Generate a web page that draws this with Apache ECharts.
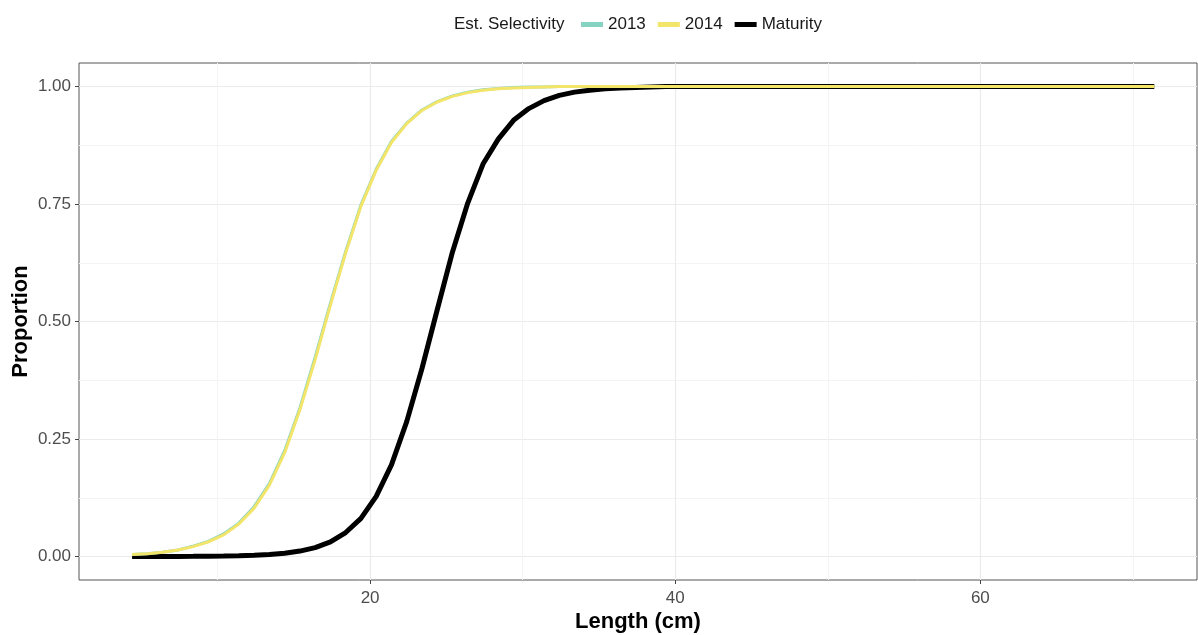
<!DOCTYPE html>
<html lang="en">
<head>
    <meta charset="UTF-8">
    <title>Selectivity and maturity at length</title>
    <script src="https://cdn.jsdelivr.net/npm/echarts@6/dist/echarts.min.js"></script>
    <style>
        body { margin: 0; padding: 0; background: #fff; }
        #chart { width: 1198px; height: 635px; }
    </style>
</head>
<body>
    <div id="chart"></div>
    <script>
        // length bins (cm)
        const lengths = [
            4.4, 5.4, 6.4, 7.4, 8.4, 9.4, 10.4, 11.4, 12.4, 13.4, 14.4, 15.4, 16.4, 17.4, 18.4, 19.4, 20.4,
            21.4, 22.4, 23.4, 24.4, 25.4, 26.4, 27.4, 28.4, 29.4, 30.4, 31.4, 32.4, 33.4, 34.4, 35.4, 36.4,
            37.4, 38.4, 39.4, 40.4, 41.4, 42.4, 43.4, 44.4, 45.4, 46.4, 47.4, 48.4, 49.4, 50.4, 51.4, 52.4,
            53.4, 54.4, 55.4, 56.4, 57.4, 58.4, 59.4, 60.4, 61.4, 62.4, 63.4, 64.4, 65.4, 66.4, 67.4, 68.4,
            69.4, 70.4, 71.4
        ];

        // estimated selectivity, 2013
        const sel2013 = [
            0.004, 0.006, 0.009, 0.014, 0.022, 0.032, 0.048, 0.071, 0.106, 0.155, 0.225, 0.316, 0.424, 0.539, 0.649, 0.748, 0.824,
            0.883, 0.922, 0.950, 0.968, 0.980, 0.988, 0.993, 0.996, 0.998, 0.999, 0.999, 1, 1, 1, 1, 1,
            1, 1, 1, 1, 1, 1, 1, 1, 1, 1, 1, 1, 1, 1, 1, 1,
            1, 1, 1, 1, 1, 1, 1, 1, 1, 1, 1, 1, 1, 1, 1, 1,
            1, 1, 1
        ];

        // estimated selectivity, 2014
        const sel2014 = [
            0.004, 0.006, 0.009, 0.014, 0.021, 0.031, 0.046, 0.069, 0.103, 0.152, 0.221, 0.312, 0.419, 0.535, 0.646, 0.745, 0.822,
            0.881, 0.921, 0.949, 0.967, 0.979, 0.987, 0.992, 0.995, 0.997, 0.998, 0.999, 1, 1, 1, 1, 1,
            1, 1, 1, 1, 1, 1, 1, 1, 1, 1, 1, 1, 1, 1, 1, 1,
            1, 1, 1, 1, 1, 1, 1, 1, 1, 1, 1, 1, 1, 1, 1, 1,
            1, 1, 1
        ];

        // maturity ogive
        const maturity = [
            0, 0.0001, 0.0001, 0.0002, 0.0003, 0.0006, 0.0009, 0.0015, 0.0025, 0.0042, 0.0070, 0.0115, 0.019, 0.031, 0.051, 0.081, 0.128,
            0.195, 0.287, 0.400, 0.525, 0.648, 0.752, 0.835, 0.888, 0.928, 0.953, 0.970, 0.981, 0.988, 0.992, 0.995, 0.997,
            0.998, 0.999, 1, 1, 1, 1, 1, 1, 1, 1, 1, 1, 1, 1, 1, 1,
            1, 1, 1, 1, 1, 1, 1, 1, 1, 1, 1, 1, 1, 1, 1, 1,
            1, 1, 1
        ];

        const xMajor = [20, 40, 60];
        const xMinor = [10, 30, 50, 70];
        const yMajor = [0, 0.25, 0.5, 0.75, 1];
        const yMinor = [0.125, 0.375, 0.625, 0.875];

        const pairs = vals => lengths.map((l, i) => [l, vals[i]]);

        const font = "'Liberation Sans', Arial, sans-serif";
        const xRange = { min: 0.92, max: 74.2 };
        const yRange = { min: -0.05, max: 1.05 };

        const chart = echarts.init(document.getElementById('chart'));

        const option = {
            animation: false,
            backgroundColor: '#fff',
            title: {
                text: 'Est. Selectivity',
                left: 449,
                top: 11,
                textStyle: { fontFamily: font, fontSize: 17, fontWeight: 'normal', color: '#1a1a1a' }
            },
            legend: {
                data: ['2013', '2014', 'Maturity'],
                left: 576,
                top: 11,
                icon: 'rect',
                itemWidth: 22,
                itemHeight: 5,
                itemGap: 12,
                textStyle: { fontFamily: font, fontSize: 17, color: '#1a1a1a' }
            },
            grid: {
                left: 79,
                right: 1,
                top: 63,
                bottom: 55,
                outerBoundsMode: 'none',
                containLabel: false,
                show: true,
                borderColor: '#555',
                borderWidth: 1,
                backgroundColor: '#fff'
            },
            xAxis: [{
                type: 'value',
                ...xRange,
                name: 'Length (cm)',
                nameLocation: 'middle',
                nameGap: 31,
                nameMoveOverlap: false,
                nameTextStyle: { fontFamily: font, fontSize: 22, fontWeight: 'bold', color: '#000' },
                axisLine: { show: false, onZero: false },
                axisTick: { show: true, customValues: xMajor, length: 4, lineStyle: { color: '#444' } },
                axisLabel: { customValues: xMajor, margin: 10, fontFamily: font, fontSize: 17, color: '#4d4d4d' },
                splitLine: { show: true, lineStyle: { color: '#ebebeb', width: 1.2 } }
            }, {
                type: 'value',
                ...xRange,
                position: 'top',
                axisLine: { show: false, onZero: false },
                axisTick: { show: false, customValues: xMinor },
                axisLabel: { show: false, customValues: xMinor },
                splitLine: { show: true, lineStyle: { color: '#f4f4f4', width: 1 } }
            }],
            yAxis: [{
                type: 'value',
                ...yRange,
                name: 'Proportion',
                nameLocation: 'middle',
                nameGap: 47,
                nameMoveOverlap: false,
                nameTextStyle: { fontFamily: font, fontSize: 22, fontWeight: 'bold', color: '#000' },
                axisLine: { show: false, onZero: false },
                axisTick: { show: true, customValues: yMajor, length: 4, lineStyle: { color: '#444' } },
                axisLabel: {
                    customValues: yMajor, margin: 8, fontFamily: font, fontSize: 17, color: '#4d4d4d',
                    formatter: v => v.toFixed(2)
                },
                splitLine: { show: true, lineStyle: { color: '#ebebeb', width: 1.2 } }
            }, {
                type: 'value',
                ...yRange,
                position: 'right',
                axisLine: { show: false, onZero: false },
                axisTick: { show: false, customValues: yMinor },
                axisLabel: { show: false, customValues: yMinor },
                splitLine: { show: true, lineStyle: { color: '#f4f4f4', width: 1 } }
            }],
            series: [{
                name: 'Maturity',
                type: 'line',
                data: pairs(maturity),
                showSymbol: false,
                color: '#000',
                lineStyle: { width: 5, color: '#000' }
            }, {
                name: '2013',
                type: 'line',
                data: pairs(sel2013),
                showSymbol: false,
                color: '#86d3c1',
                lineStyle: { width: 3, color: '#86d3c1' }
            }, {
                name: '2014',
                type: 'line',
                data: pairs(sel2014),
                showSymbol: false,
                color: '#f3e56a',
                lineStyle: { width: 3, color: '#f3e56a' }
            }]
        };

        chart.setOption(option);
    </script>
</body>
</html>
